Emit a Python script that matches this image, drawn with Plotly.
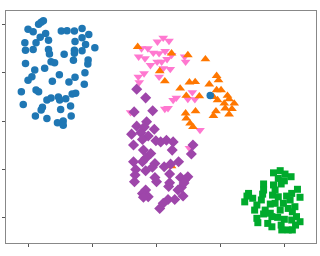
import plotly.graph_objects as go

# Cluster embeddings (arbitrary units)
blue_x = [-35.4,-36.1,-36.9,-40.2,-38.6,-34.7,-36.4,-37.7,-33.8,-41.2,-41.0,-38.6,-33.8,-33.5,
          -29.8,-28.0,-25.7,-23.3,-21.2,-23.3,-25.5,-22.2,-19.3,-23.3,-25.7,-25.7,-28.9,-41.0,
          -33.0,-31.9,-26.0,-21.4,-21.5,-22.4,-25.5,-27.4,-30.4,-32.6,-35.0,-38.1,-39.0,-40.2,
          -42.3,-41.7,-37.7,-36.9,-34.3,-33.0,-30.7,-30.3,-28.4,-26.4,-25.3,-22.6,-35.7,-36.1,
          -30.0,-26.9,-37.9,-34.3,-31.0,-29.2,-29.2,-26.7,16.8]
blue_y = [41.5,40.8,40.0,38.0,36.9,36.2,34.7,32.4,33.4,32.4,29.3,29.6,29.6,27.7,
          37.2,37.3,37.2,38.3,35.8,34.4,32.9,31.7,30.3,29.1,29.3,28.0,27.6,23.8,
          24.5,24.1,25.1,25.2,23.6,20.0,18.1,16.1,19.1,16.5,21.8,21.1,18.3,16.9,
          12.1,6.9,12.8,12.1,8.7,9.5,10.0,8.7,9.2,11.2,11.5,15.2,5.7,4.6,
          4.8,6.2,2.1,1.1,-0.7,0.0,-1.7,2.1,10.6]

pink_x = [0.3,2.1,3.9,-4.7,-2.7,-5.6,-3.6,-1.0,0.8,2.7,4.7,3.3,1.6,0.2,-1.9,2.1,4.3,0.8,
          -3.9,-5.7,-5.4,8.8,9.1,6.2,5.2,11.2,9.8,12.0,3.6,2.6,-8.1,13.6,10.3]
pink_y = [32.8,34.4,33.1,30.0,30.0,26.6,25.9,28.2,28.0,28.9,27.3,25.6,24.5,24.5,23.1,21.8,21.5,18.3,
          19.7,18.3,16.0,26.6,24.5,9.6,8.7,11.9,9.1,9.0,5.3,5.0,3.6,-3.7,-11.2]

orange_x = [-5.9,9.8,15.3,1.0,2.6,18.8,19.4,10.3,12.1,7.4,16.5,18.8,20.2,9.3,13.4,17.8,19.1,
            22.2,22.7,21.2,24.3,23.6,18.6,21.5,22.7,17.8,12.2,9.1,9.3,10.5,11.4,4.7,4.7]
orange_y = [30.7,27.3,25.6,20.7,16.5,18.7,16.9,16.0,16.2,13.5,15.2,12.8,12.8,10.5,10.3,10.0,8.7,
            10.5,9.1,7.3,7.3,5.0,4.1,5.3,2.8,2.2,4.1,3.2,1.1,-1.0,-2.4,28.0,-18.6]

purple_x = [-6.2,-3.4,-7.0,-1.2,-3.1,-6.2,-3.8,-0.7,-7.8,-4.9,-2.6,-4.4,-0.2,1.3,3.1,5.2,-7.2,
            4.9,11.4,10.9,-4.1,-1.8,-3.4,-4.4,-7.2,-0.5,2.4,4.4,6.9,-6.5,-3.4,-1.3,4.1,-6.7,
            -0.5,-6.9,0.0,7.5,9.8,8.8,4.1,7.8,6.7,-3.4,-4.4,-2.6,-4.1,8.3,5.7,3.6,2.1,1.0,3.8,8.6]
purple_y = [13.2,9.6,3.8,4.3,-0.3,-2.1,-2.4,-3.4,-5.4,-4.8,-6.2,-7.6,-8.1,-8.6,-7.9,-8.6,-9.9,
            -12.0,-9.9,-13.6,-12.0,-13.4,-15.4,-16.8,-16.8,-17.5,-18.9,-17.8,-16.8,-20.0,-20.5,-19.1,-21.9,-22.3,
            -23.3,-25.1,-25.1,-23.3,-23.0,-24.4,-25.5,-27.4,-28.5,-28.5,-29.9,-31.3,-31.5,-31.0,-32.4,-32.4,-34.0,-36.1,-27.0,-25.6]

green_x = [36.6,38.7,40.2,42.1,38.1,40.0,39.0,36.6,33.5,33.5,33.2,28.8,28.3,27.6,30.1,36.3,38.1,
           40.7,42.3,44.1,44.9,41.8,39.7,37.1,35.6,32.8,31.4,30.7,34.0,35.6,38.7,41.2,42.5,43.3,
           43.8,44.9,42.3,40.0,37.9,36.1,33.5,31.4,31.7,34.8,36.1,39.0,39.2,41.2,42.5,43.5,37.1]
green_y = [-21.4,-20.5,-21.9,-23.0,-23.7,-24.7,-26.0,-26.4,-26.0,-28.5,-30.2,-29.9,-31.0,-33.4,-31.9,-30.6,-31.3,
           -31.0,-29.9,-28.2,-31.5,-32.6,-34.0,-34.0,-34.3,-32.6,-34.7,-36.8,-36.8,-38.1,-36.8,-36.1,-37.5,-35.4,
           -39.5,-41.6,-40.9,-40.6,-39.8,-39.5,-38.4,-40.2,-42.0,-42.3,-43.7,-43.0,-45.0,-45.0,-45.0,-43.0,-28.5]

tick_vals = [-40, -20, 0, 20, 40]

fig = go.Figure()
series = [
    (pink_x, pink_y, "triangle-down", "#ff78d0", 8.5),
    (orange_x, orange_y, "triangle-up", "#ff7700", 8.5),
    (purple_x, purple_y, "diamond", "#9e46aa", 8.5),
    (green_x, green_y, "square", "#00aa2c", 7),
    (blue_x, blue_y, "circle", "#1f77b4", 7.5),
]
for xs, ys, sym, col, sz in series:
    fig.add_trace(go.Scatter(x=xs, y=ys, mode="markers",
                             marker=dict(symbol=sym, color=col, size=sz, line=dict(width=0)),
                             showlegend=False, hoverinfo="skip"))

axis_common = dict(showgrid=False, zeroline=False, showticklabels=False,
                   ticks="outside", ticklen=3, tickwidth=1, tickcolor="#555",
                   showline=True, linecolor="#888", linewidth=1, mirror=True)
fig.update_xaxes(range=[-47.1, 49.9], tickvals=tick_vals, **axis_common)
fig.update_yaxes(range=[-50.4, 45.5], tickvals=tick_vals, **axis_common)
fig.update_layout(width=320, height=256, margin=dict(l=3, r=4, t=11, b=13),
                  paper_bgcolor="white", plot_bgcolor="white")
fig.write_html("out.html")
